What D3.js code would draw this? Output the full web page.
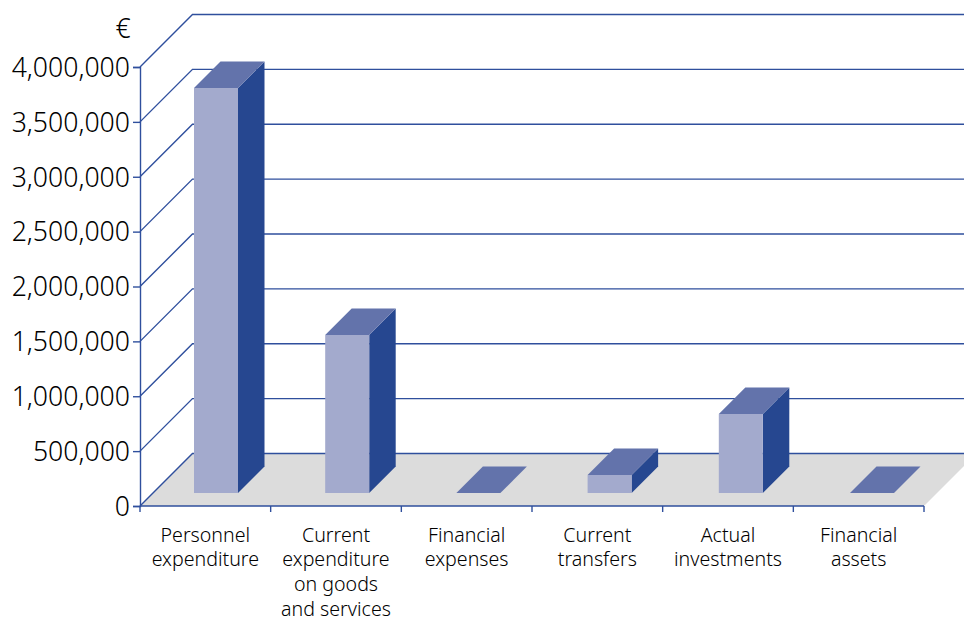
<!DOCTYPE html>
<html>
<head>
<meta charset="utf-8">
<script src="https://cdn.jsdelivr.net/npm/d3@7"></script>
<style>
html,body{margin:0;padding:0;background:#fff;}
svg{display:block;}
text{font-family:"Noto Sans","Open Sans",sans-serif;font-weight:300;fill:#000;}
</style>
</head>
<body>
<svg id="chart" width="964" height="622"></svg>
<script>
const categories = [
  ["Personnel","expenditure"],
  ["Current","expenditure","on goods","and services"],
  ["Financial","expenses"],
  ["Current","transfers"],
  ["Actual","investments"],
  ["Financial","assets"]
];
const amounts = [3690000, 1440000, 0, 164000, 720000, 0];
const tickValues = [0,500000,1000000,1500000,2000000,2500000,3000000,3500000,4000000];
const unitLabel = "€";

const colors = {line:"#2f4f9d", floor:"#dcdcdc", front:"#a3aacd", top:"#6373ab", side:"#264790"};

const plotLeft = 140, plotRight = 924, base = 506, peak = 67;
const wallDepth = 52.5;       // oblique shift of the back wall
const barDepth = 26.5;        // oblique shift of a bar's own depth
const barInset = 13;          // bars stand this far in from the front floor edge
const barWidth = 44;

const svg = d3.select("#chart");
const x = d3.scaleBand().domain(d3.range(categories.length)).range([plotLeft,plotRight]);
// Bars sit on the receding floor, so their slots are shifted and spaced a little wider
const barSlots = d3.scaleBand().domain(d3.range(categories.length)).range([150.4,937.6]);
const y = d3.scaleLinear().domain([0,4000000]).range([base,peak]);
const fmt = d3.format(",");
const poly = pts => pts.map(p=>p.join(",")).join(" ");

// Floor, clipped by the page's right edge
svg.append("polygon")
  .attr("points",poly([[plotLeft,base],[plotRight,base],[plotRight+wallDepth,base-wallDepth],[plotLeft+wallDepth,base-wallDepth]]))
  .attr("fill",colors.floor);

// Gridlines on the side and back walls
const grid = svg.append("g").attr("fill","none").attr("stroke",colors.line).attr("stroke-width",1.4);
grid.selectAll("polyline").data(tickValues).join("polyline")
  .attr("points",d=>poly([[plotLeft,y(d)],[plotLeft+wallDepth,y(d)-wallDepth],[964,y(d)-wallDepth]]));

// Value axis
const yAxis = d3.axisLeft(y).tickValues(tickValues).tickFormat(fmt).tickSize(7).tickPadding(3);
const yG = svg.append("g").attr("transform",`translate(${plotLeft},0)`).call(yAxis);
yG.select(".domain").attr("stroke",colors.line).attr("stroke-width",1.4);
yG.selectAll(".tick line").attr("stroke",colors.line).attr("stroke-width",1.4);
yG.selectAll("text").attr("font-size",26.6).attr("fill","#000").attr("dy","0.35em");

// Category axis
const xAxis = d3.axisBottom(x).tickFormat("").tickSize(0);
const xG = svg.append("g").attr("transform",`translate(0,${base})`).call(xAxis);
xG.select(".domain").attr("stroke",colors.line).attr("stroke-width",1.6).attr("d",`M${plotLeft},0H${plotRight}`);
xG.selectAll(".tick").remove();
xG.selectAll("line.sep").data(d3.range(categories.length+1)).join("line").attr("class","sep")
  .attr("x1",i=>plotLeft+i*x.bandwidth()).attr("x2",i=>plotLeft+i*x.bandwidth())
  .attr("y1",0).attr("y2",6).attr("stroke",colors.line).attr("stroke-width",1.4);

// Category labels
const labels = svg.append("g").attr("text-anchor","middle").attr("font-size",19.6);
categories.forEach((lines,i)=>{
  const t = labels.append("text").attr("x",x(i)+x.bandwidth()/2).attr("y",541.5);
  lines.forEach((s,j)=>t.append("tspan").attr("x",x(i)+x.bandwidth()/2).attr("dy",j?24.9:0).text(s));
});

// Oblique bars
const bars = svg.append("g").selectAll("g").data(amounts).join("g");
const fx = i => barSlots(i)+barSlots.bandwidth()/2-barWidth/2;
const floorY = base-barInset;
const topY = v => floorY-(y(0)-y(v));
bars.append("polygon") // side face
  .attr("points",(d,i)=>poly([[fx(i)+barWidth,floorY],[fx(i)+barWidth+barDepth,floorY-barDepth],[fx(i)+barWidth+barDepth,topY(d)-barDepth],[fx(i)+barWidth,topY(d)]]))
  .attr("fill",colors.side);
bars.append("rect") // front face
  .attr("x",(d,i)=>fx(i)).attr("width",barWidth)
  .attr("y",d=>topY(d)).attr("height",d=>floorY-topY(d))
  .attr("fill",colors.front);
bars.append("polygon") // top face
  .attr("points",(d,i)=>poly([[fx(i),topY(d)],[fx(i)+barWidth,topY(d)],[fx(i)+barWidth+barDepth,topY(d)-barDepth],[fx(i)+barDepth,topY(d)-barDepth]]))
  .attr("fill",colors.top);

// Currency unit above the value axis
svg.append("text").attr("x",123).attr("y",38).attr("text-anchor","middle").attr("font-size",26.6).text(unitLabel);
</script>
</body>
</html>
